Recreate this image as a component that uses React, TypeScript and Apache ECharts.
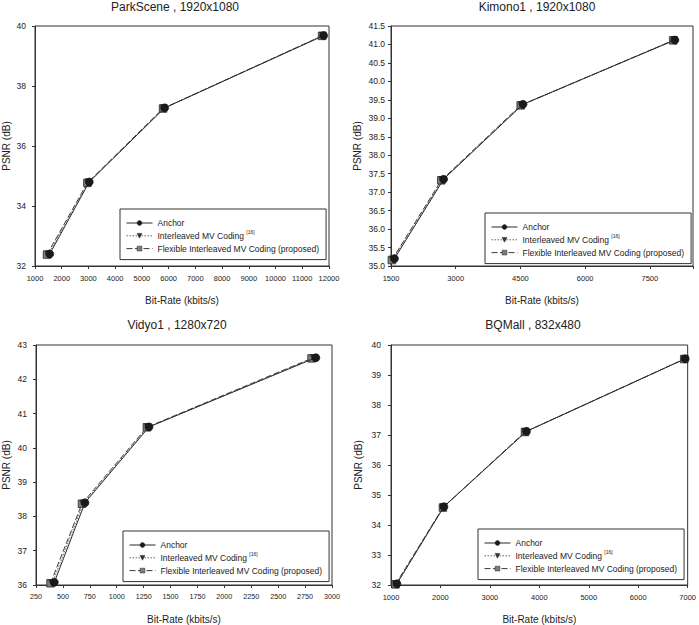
import React, { useEffect, useRef } from "react";
import * as echarts from "echarts";

// ParkScene, 1920x1080
const parkAnchorRate = [1550, 3030, 5850, 11800];
const parkAnchorPsnr = [32.4, 34.8, 37.27, 39.68];
const parkInterRate = [1500, 3000, 5820, 11770];
const parkInterPsnr = [32.39, 34.79, 37.26, 39.68];
const parkFlexRate = [1450, 2960, 5790, 11740];
const parkFlexPsnr = [32.38, 34.77, 37.25, 39.67];

// Kimono1, 1920x1080
const kimonoAnchorRate = [1580, 2720, 4560, 8080];
const kimonoAnchorPsnr = [35.2, 37.35, 39.38, 41.12];
const kimonoInterRate = [1550, 2690, 4530, 8060];
const kimonoInterPsnr = [35.18, 37.33, 39.36, 41.12];
const kimonoFlexRate = [1520, 2665, 4505, 8040];
const kimonoFlexPsnr = [35.16, 37.32, 39.35, 41.11];

// Vidyo1, 1280x720
const vidyoAnchorRate = [420, 705, 1300, 2850];
const vidyoAnchorPsnr = [36.08, 38.4, 40.61, 42.63];
const vidyoInterRate = [400, 690, 1290, 2830];
const vidyoInterPsnr = [36.05, 38.38, 40.6, 42.62];
const vidyoFlexRate = [385, 677, 1280, 2810];
const vidyoFlexPsnr = [36.05, 38.37, 40.6, 42.61];

// BQMall, 832x480
const mallAnchorRate = [1120, 2070, 3740, 6950];
const mallAnchorPsnr = [32.04, 34.61, 37.12, 39.54];
const mallInterRate = [1100, 2060, 3720, 6940];
const mallInterPsnr = [32.03, 34.6, 37.11, 39.54];
const mallFlexRate = [1090, 2050, 3710, 6930];
const mallFlexPsnr = [32.02, 34.58, 37.1, 39.53];

const seriesNames = [
  "Anchor",
  "Interleaved MV Coding",
  "Flexible Interleaved MV Coding (proposed)",
];

const panelTitles = [
  "ParkScene , 1920x1080",
  "Kimono1 , 1920x1080",
  "Vidyo1 , 1280x720",
  "BQMall , 832x480",
];

const xAxisName = "Bit-Rate (kbits/s)";
const yAxisName = "PSNR (dB)";

const FONT = '"Liberation Sans", Arial, Helvetica, sans-serif';
const INK = "#222";

const pairs = (xs: number[], ys: number[]) => xs.map((x, i) => [x, ys[i]]);

const panels = [
  {
    rates: [parkAnchorRate, parkInterRate, parkFlexRate],
    psnrs: [parkAnchorPsnr, parkInterPsnr, parkFlexPsnr],
    x: { min: 1000, max: 12000, interval: 1000 },
    y: { min: 32, max: 40, interval: 2, digits: 0 },
    grid: { left: 27, top: 26, width: 302, height: 240 },
    xFont: 7.5,
    yMargin: 9,
    yNameGap: 24,
    title: { x: 175, y: 7 },
    legend: { left: 120, top: 209 },
  },
  {
    rates: [kimonoAnchorRate, kimonoInterRate, kimonoFlexRate],
    psnrs: [kimonoAnchorPsnr, kimonoInterPsnr, kimonoFlexPsnr],
    x: { min: 1500, max: 8500, interval: 1500 },
    y: { min: 35, max: 41.5, interval: 0.5, digits: 1 },
    grid: { left: 391, top: 26, width: 302, height: 240 },
    xFont: 7.5,
    yMargin: 6,
    yNameGap: 29,
    title: { x: 537, y: 7 },
    legend: { left: 485, top: 213 },
  },
  {
    rates: [vidyoAnchorRate, vidyoInterRate, vidyoFlexRate],
    psnrs: [vidyoAnchorPsnr, vidyoInterPsnr, vidyoFlexPsnr],
    x: { min: 250, max: 3000, interval: 250 },
    y: { min: 36, max: 43, interval: 1, digits: 0 },
    grid: { left: 30, top: 345, width: 302, height: 240 },
    xFont: 7.2,
    yMargin: 9,
    yNameGap: 25,
    title: { x: 177, y: 325 },
    legend: { left: 123, top: 531 },
  },
  {
    rates: [mallAnchorRate, mallInterRate, mallFlexRate],
    psnrs: [mallAnchorPsnr, mallInterPsnr, mallFlexPsnr],
    x: { min: 1000, max: 7000, interval: 1000 },
    y: { min: 32, max: 40, interval: 1, digits: 0 },
    grid: { left: 391, top: 345, width: 298, height: 240 },
    xFont: 7.5,
    yMargin: 10,
    yNameGap: 28,
    title: { x: 533, y: 325 },
    legend: { left: 478, top: 529 },
  },
];

// Series styles: solid + circle, dotted + inverted triangle, dashed + square
const seriesStyles = [
  {
    symbol: "circle",
    symbolSize: 8,
    itemStyle: { color: "#1a1a1a", borderColor: "#111", borderWidth: 0.6 },
    lineStyle: { color: "#2a2a2a", width: 1, type: "solid" as const },
  },
  {
    symbol: "path://M0,0 L10,0 L5,9 Z",
    symbolSize: 7,
    itemStyle: { color: "#333", borderColor: "#222", borderWidth: 0.5 },
    lineStyle: { color: "#666", width: 1, type: [1.5, 1.5] },
  },
  {
    symbol: "rect",
    symbolSize: 7.5,
    itemStyle: { color: "#7d7d7d", borderColor: "#2a2a2a", borderWidth: 0.8 },
    lineStyle: { color: "#3a3a3a", width: 1, type: [6, 2.5] },
  },
];

// Only label ticks that sit on the regular interval grid (hides a trailing extent tick)
const onGrid = (v: number, min: number, step: number) => {
  const k = (v - min) / step;
  return Math.abs(k - Math.round(k)) < 1e-6;
};

export default function App() {
  const ref = useRef<HTMLDivElement>(null);

  useEffect(() => {
    if (!ref.current) return;
    const chart = echarts.init(ref.current, undefined, { renderer: "svg" });

    const grids = panels.map((p) => ({
      ...p.grid,
      show: true,
      borderColor: "#333",
      borderWidth: 1,
      backgroundColor: "transparent",
      containLabel: false,
    }));

    const xAxes = panels.map((p, i) => ({
      type: "value" as const,
      gridIndex: i,
      min: p.x.min,
      max: p.x.max,
      interval: p.x.interval,
      name: xAxisName,
      nameLocation: "middle" as const,
      nameGap: 29,
      nameTextStyle: { fontFamily: FONT, fontSize: 10, color: INK },
      axisLine: { show: true, lineStyle: { color: "#333", width: 1 } },
      axisTick: { show: true, inside: false, length: 3, lineStyle: { color: "#333" } },
      splitLine: { show: false },
      axisLabel: {
        fontFamily: FONT,
        fontSize: p.xFont,
        color: INK,
        margin: 8,
        formatter: (v: number) => (onGrid(v, p.x.min, p.x.interval) ? String(v) : ""),
      },
    }));

    const yAxes = panels.map((p, i) => ({
      type: "value" as const,
      gridIndex: i,
      min: p.y.min,
      max: p.y.max,
      interval: p.y.interval,
      name: yAxisName,
      nameLocation: "middle" as const,
      nameGap: p.yNameGap,
      nameTextStyle: { fontFamily: FONT, fontSize: 10, color: INK },
      axisLine: { show: true, lineStyle: { color: "#333", width: 1 } },
      axisTick: { show: true, inside: false, length: 3, lineStyle: { color: "#333" } },
      splitLine: { show: false },
      axisLabel: {
        fontFamily: FONT,
        fontSize: 8.5,
        color: INK,
        margin: p.yMargin,
        formatter: (v: number) => v.toFixed(p.y.digits),
      },
    }));

    const series: any[] = [];
    panels.forEach((p, i) => {
      seriesNames.forEach((name, k) => {
        series.push({
          type: "line",
          name,
          xAxisIndex: i,
          yAxisIndex: i,
          data: pairs(p.rates[k], p.psnrs[k]),
          ...seriesStyles[k],
          z: 3 - k,
        });
      });
    });

    const legends = panels.map((p) => ({
      orient: "vertical" as const,
      left: p.legend.left,
      top: p.legend.top,
      data: seriesNames,
      selectedMode: false,
      borderColor: "#333",
      borderWidth: 1,
      padding: [8, 7, 5, 6],
      itemWidth: 26,
      itemHeight: 6,
      itemGap: 0.8,
      itemStyle: { borderWidth: 0.5 },
      lineStyle: { width: 1 },
      textStyle: {
        fontFamily: FONT,
        fontSize: 8.5,
        color: INK,
        lineHeight: 12,
        rich: {
          sup: { fontFamily: FONT, fontSize: 5, color: INK, verticalAlign: "top", lineHeight: 12 },
        },
      },
      formatter: (name: string) =>
        name === "Interleaved MV Coding" ? name + " {sup|[16]}" : name,
    }));

    const titles = panels.map((p, i) => ({
      type: "text" as const,
      x: p.title.x,
      y: p.title.y,
      style: {
        text: panelTitles[i],
        fontFamily: FONT,
        fontSize: 12,
        fill: INK,
        textAlign: "center" as const,
        textVerticalAlign: "middle" as const,
      },
    }));

    chart.setOption({
      animation: false,
      backgroundColor: "#fff",
      grid: grids,
      xAxis: xAxes,
      yAxis: yAxes,
      legend: legends,
      series,
      graphic: titles,
    });

    return () => chart.dispose();
  }, []);

  return (
    <div
      ref={ref}
      style={{ position: "fixed", left: 0, top: 0, width: 699, height: 625 }}
    />
  );
}
